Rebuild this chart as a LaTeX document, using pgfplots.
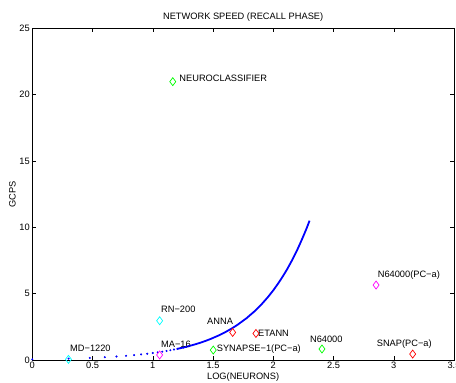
\documentclass[border=0pt]{standalone}
\usepackage{fontspec}
\setmainfont{Liberation Sans}
\usepackage{pgfplots}
\pgfplotsset{compat=1.18}
\usetikzlibrary{calc}
\definecolor{mgreen}{rgb}{0,1,0}
\definecolor{mcyan}{rgb}{0,1,1}
\definecolor{mmag}{rgb}{1,0,1}
\definecolor{mred}{rgb}{1,0,0}
\begin{document}
\begin{tikzpicture}
\begin{axis}[
  name=ax,
  scale only axis,
  width=421.7bp, height=331.7bp,
  xmin=0, xmax=3.5, ymin=0, ymax=25,
  xtick={0,0.5,1,1.5,2,2.5,3,3.5},
  xticklabels={0,0.5,1,1.5,2,2.5,3,3.5},
  ytick={0,5,10,15,20,25},
  tick align=inside,
  major tick length=4bp,
  axis line style={line width=0.6pt},
  every tick/.style={line width=0.5pt,black},
  /pgf/number format/assume math mode=true,
  tick label style={font=\fontsize{9.3}{10}\selectfont},
  label style={font=\fontsize{9.3}{10}\selectfont},
  title style={font=\fontsize{9.3}{10}\selectfont, yshift=-3bp},
  title={NETWORK SPEED (RECALL PHASE)},
  xlabel={LOG(NEURONS)},
  ylabel={GCPS},
  xlabel style={yshift=3bp},
  ylabel style={yshift=-3bp},
  xticklabel style={yshift=1.5bp},
  yticklabel style={xshift=1bp},
  clip=false,
]
% blue curve: discrete points
\addplot[only marks, mark=*, mark size=0.8bp, blue] coordinates {
(0,0.0525) (0.301,0.105) (0.477,0.158) (0.602,0.21) (0.699,0.263) (0.778,0.315)
(0.845,0.368) (0.903,0.42) (0.954,0.473) (1.000,0.525) (1.041,0.578) (1.079,0.63)
(1.114,0.683) (1.146,0.735) (1.176,0.788) (1.204,0.84) (1.230,0.893) (1.255,0.945)
(1.279,0.998) (1.301,1.05)
};
\addplot[blue, line width=1.8pt] coordinates {
(1.204,0.84) (1.230,0.893) (1.255,0.945) (1.279,0.998)
(1.301,1.05) (1.342,1.155) (1.380,1.26) (1.415,1.365) (1.447,1.47) (1.477,1.575)
(1.544,1.838) (1.602,2.1) (1.653,2.363) (1.699,2.625) (1.778,3.15) (1.845,3.675)
(1.903,4.2) (1.954,4.725) (2.000,5.25) (2.041,5.775) (2.079,6.3) (2.114,6.825)
(2.146,7.35) (2.176,7.875) (2.204,8.4) (2.230,8.925) (2.255,9.45) (2.279,9.975)
(2.301,10.5)
};
% scatter points
\addplot[only marks, mark=diamond, mark size=4bp, mcyan, mark options={line width=0.7pt}] coordinates {(0.30,0.05) (1.057,2.96)};
\addplot[only marks, mark=diamond, mark size=4bp, mmag, mark options={line width=0.7pt}] coordinates {(1.057,0.38) (2.853,5.65)};
\addplot[only marks, mark=diamond, mark size=4bp, mred, mark options={line width=0.7pt}] coordinates {(1.663,2.08) (1.856,2.0) (3.157,0.45)};
\addplot[only marks, mark=diamond, mark size=4bp, mgreen, mark options={line width=0.7pt}] coordinates {(1.502,0.75) (2.404,0.83) (1.166,20.98)};
% labels
\begin{scope}[every node/.style={font=\fontsize{9.3}{10}\selectfont, inner sep=0pt, anchor=west}]
\node at (axis cs:0.313,0.90) {MD−1220};
\node at (axis cs:1.068,3.84) {RN−200};
\node at (axis cs:1.068,1.20) {MA−16};
\node at (axis cs:1.45,2.88) {ANNA};
\node at (axis cs:1.873,2.03) {ETANN};
\node at (axis cs:1.530,0.80) {SYNAPSE−1(PC−a)};
\node at (axis cs:2.304,1.58) {N64000};
\node at (axis cs:2.858,1.20) {SNAP(PC−a)};
\node at (axis cs:2.866,6.40) {N64000(PC−a)};
\node at (axis cs:1.22,21.21) {NEUROCLASSIFIER};
\end{scope}
\end{axis}
\pgfresetboundingbox
\path ($(ax.south west)+(-32.3bp,-23bp)$) rectangle ($(ax.north east)+(2bp,28.3bp)$);
\end{tikzpicture}
\end{document}
